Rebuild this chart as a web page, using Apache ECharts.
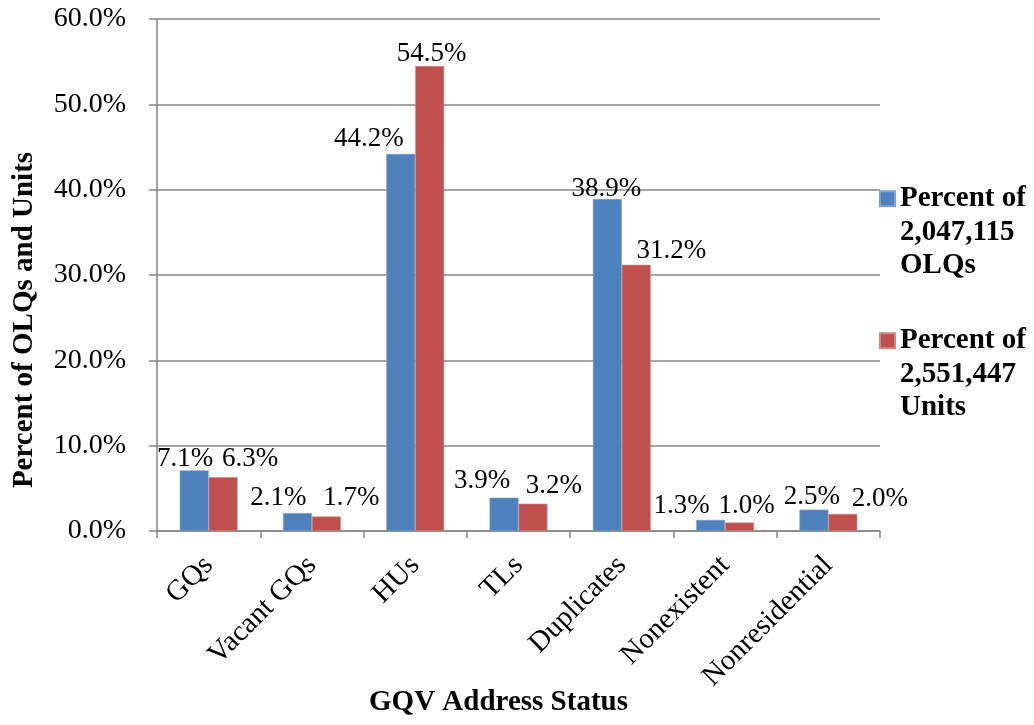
<!DOCTYPE html>
<html><head><meta charset="utf-8">
<script src="https://cdn.jsdelivr.net/npm/echarts@6/dist/echarts.min.js"></script>
<style>html,body{margin:0;padding:0;background:#fff}#c{width:1034px;height:725px}</style>
</head><body><div id="c"></div>
<script>
var categories = ['GQs','Vacant GQs','HUs','TLs','Duplicates','Nonexistent','Nonresidential'];
var seriesNames = ['Percent of\n2,047,115\nOLQs','Percent of\n2,551,447\nUnits'];
var olqValues = [7.1, 2.1, 44.2, 3.9, 38.9, 1.3, 2.5];
var unitValues = [6.3, 1.7, 54.5, 3.2, 31.2, 1.0, 2.0];
var yTicks = [0, 10, 20, 30, 40, 50, 60];
// label nudges (styling only)
var olqLabelOffsets = [[-9,4],[-19,0],[-32,1],[-22,-1],[-1,5],[-29,1],[-2,3]];
var unitLabelOffsets = [[27,-3],[25,-3],[2,3],[21,-2],[35,2],[7,-1],[37,0]];

var FONT = '"Liberation Serif", "Times New Roman", serif';
function mk(vals, offs){
  return vals.map(function(v,i){ return {value:v, label:{offset:offs[i]}}; });
}
function legendFmt(n){ return '\n\n' + n; }
var legendText = {fontFamily:FONT, fontWeight:'bold', fontSize:29, color:'#000', lineHeight:33.5};
var chart = echarts.init(document.getElementById('c'));
chart.setOption({
  animation:false,
  backgroundColor:'#fff',
  grid:{left:157, right:154, top:19, bottom:194, containLabel:false, outerBoundsMode:'none'},
  legend:[
    {orient:'vertical', left:874, top:110, itemWidth:15, itemHeight:15, icon:'rect',
     data:[seriesNames[0]], formatter:legendFmt, textStyle:legendText},
    {orient:'vertical', left:874, top:252, itemWidth:15, itemHeight:15, icon:'rect',
     data:[seriesNames[1]], formatter:legendFmt, textStyle:legendText}
  ],
  xAxis:{
    type:'category', data:categories,
    name:'GQV Address Status', nameLocation:'middle', nameGap:157, nameMoveOverlap:false,
    nameTextStyle:{fontFamily:FONT, fontWeight:'bold', fontSize:29, color:'#000', padding:[0,40,0,0]},
    axisLine:{lineStyle:{color:'#868686', width:1.5}},
    axisTick:{show:true, length:7, lineStyle:{color:'#868686', width:1.5}},
    axisLabel:{rotate:45, fontFamily:FONT, fontSize:29, color:'#000', margin:30, interval:0}
  },
  yAxis:{
    type:'value', min:0, max:60, interval:10,
    name:'Percent of OLQs and Units', nameLocation:'middle', nameGap:118, nameMoveOverlap:false,
    nameTextStyle:{fontFamily:FONT, fontWeight:'bold', fontSize:29, color:'#000', padding:[0,90,0,0]},
    axisLine:{show:true, lineStyle:{color:'#868686', width:1.5}},
    axisTick:{show:true, inside:false, length:8, lineStyle:{color:'#868686', width:1.5}},
    axisLabel:{fontFamily:FONT, fontSize:28, color:'#000', margin:31,
      formatter:function(v){ return yTicks.indexOf(v)>=0 ? v.toFixed(1)+'%' : ''; }},
    splitLine:{show:true, lineStyle:{color:'#868686', width:1.5}}
  },
  series:[
    {name:seriesNames[0], type:'bar', data:mk(olqValues, olqLabelOffsets), barGap:'0%', barCategoryGap:'44%',
     itemStyle:{color:'#4F81BD', borderColor:'#7EA1CF', borderWidth:0.6},
     label:{show:true, position:'top', distance:2, fontFamily:FONT, fontSize:27, color:'#000',
       formatter:function(p){return p.value.toFixed(1)+'%';}}},
    {name:seriesNames[1], type:'bar', data:mk(unitValues, unitLabelOffsets), barGap:'0%', barCategoryGap:'44%',
     itemStyle:{color:'#C0504D', borderColor:'#D48684', borderWidth:0.6},
     label:{show:true, position:'top', distance:2, fontFamily:FONT, fontSize:27, color:'#000',
       formatter:function(p){return p.value.toFixed(1)+'%';}}}
  ]
});
</script></body></html>
